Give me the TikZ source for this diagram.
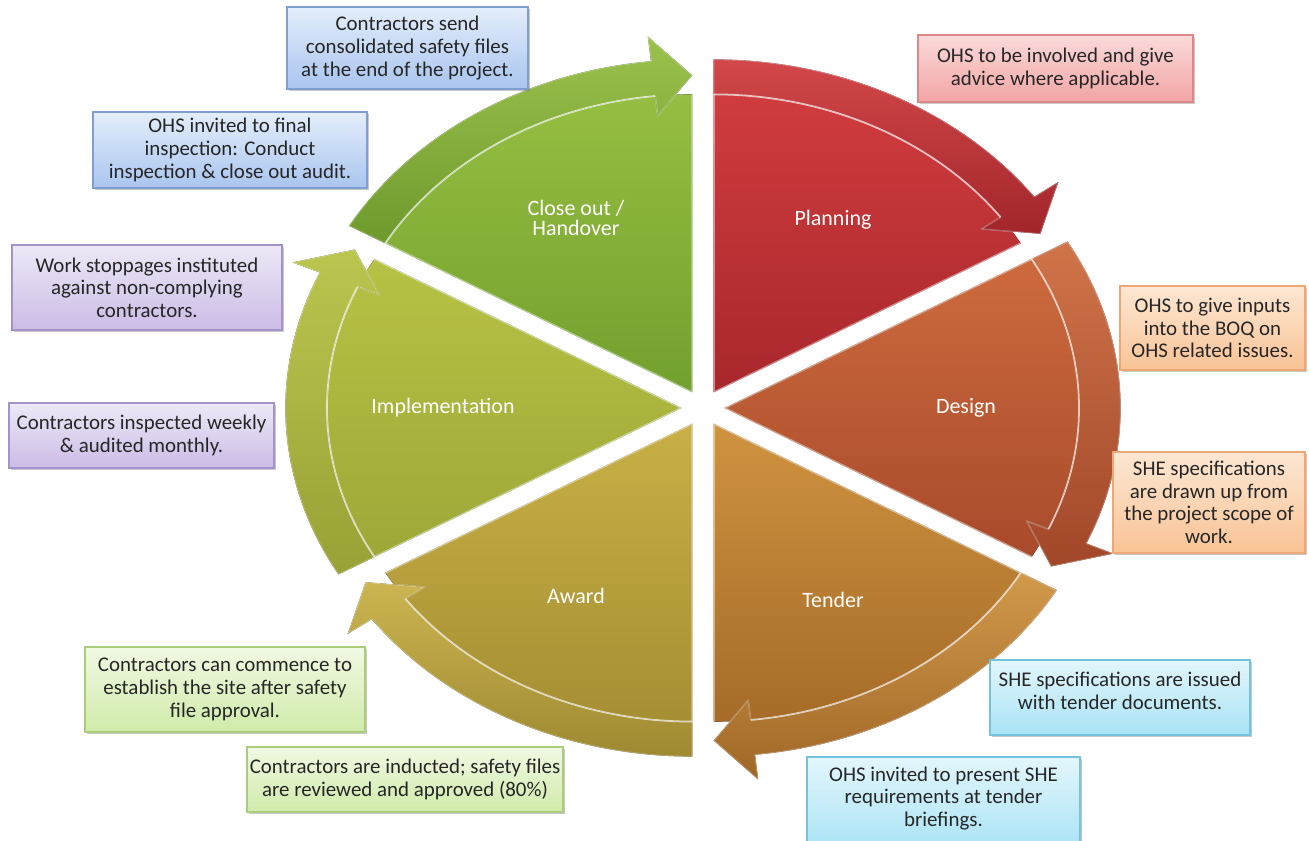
\documentclass[tikz,border=0pt]{standalone}
\usepackage{fontspec}
\setmainfont{Carlito}
\usetikzlibrary{shadows}

\definecolor{planT}{HTML}{D03C3E}\definecolor{planB}{HTML}{A8272C}
\definecolor{desT}{HTML}{CD6B3E}\definecolor{desB}{HTML}{A84A2B}
\definecolor{tenT}{HTML}{CF9340}\definecolor{tenB}{HTML}{A66B28}
\definecolor{awaT}{HTML}{C8B046}\definecolor{awaB}{HTML}{A58F33}
\definecolor{impT}{HTML}{B6C244}\definecolor{impB}{HTML}{9EA838}
\definecolor{cloT}{HTML}{96BE42}\definecolor{cloB}{HTML}{72A02E}

\definecolor{blueT}{HTML}{E4EEFB}\definecolor{blueB}{HTML}{A9C5EF}\definecolor{blueD}{HTML}{7F9FD3}
\definecolor{purT}{HTML}{EEE8F7}\definecolor{purB}{HTML}{CBBCE6}\definecolor{purD}{HTML}{A493CB}
\definecolor{pinkT}{HTML}{FBDADA}\definecolor{pinkB}{HTML}{F2A4A4}\definecolor{pinkD}{HTML}{D98989}
\definecolor{peaT}{HTML}{FDE7D3}\definecolor{peaB}{HTML}{F9C396}\definecolor{peaD}{HTML}{EDA878}
\definecolor{cyaT}{HTML}{E3F6FC}\definecolor{cyaB}{HTML}{A9E3F6}\definecolor{cyaD}{HTML}{72C3DD}
\definecolor{greT}{HTML}{F1F9E3}\definecolor{greB}{HTML}{D0EBAA}\definecolor{greD}{HTML}{A9CD7A}

\tikzset{
  boxbase/.style={rectangle, line width=0.6pt, align=center, inner sep=0pt,
    font=\fontsize{11.9}{12.9}\selectfont, text=black!85,
    drop shadow={shadow xshift=1pt, shadow yshift=-1.3pt, opacity=.3, fill=black!70}},
  bluebox/.style={boxbase, draw=blueD, top color=blueT, bottom color=blueB},
  purbox/.style={boxbase, draw=purD, top color=purT, bottom color=purB},
  pinkbox/.style={boxbase, draw=pinkD, top color=pinkT, bottom color=pinkB},
  peabox/.style={boxbase, draw=peaD, top color=peaT, bottom color=peaB},
  cyabox/.style={boxbase, draw=cyaD, top color=cyaT, bottom color=cyaB},
  grebox/.style={boxbase, draw=greD, top color=greT, bottom color=greB},
  seglabel/.style={text=white, align=center, font=\fontsize{12.5}{11.5}\selectfont, inner sep=0pt}
}

\newcommand{\pieseg}[5]{%
  \begin{scope}[shift={(#1,#2)}, xscale=1.19]
    \pgfmathsetmacro{\sa}{#3+30}%
    \pgfmathsetmacro{\ea}{#3-30}%
    \pgfmathsetmacro{\ba}{#3-24}%
    \fill[top color=#4, bottom color=#5] (0,0) -- (\sa:298) arc[start angle=\sa, end angle=\ea, radius=298] -- cycle;
    \fill[top color=#4!94!white, bottom color=#5!96!black]
      (\sa:298) -- (\sa:333) arc[start angle=\sa, end angle=\ba, radius=333]
      -- (\ba:358) -- (\ea:317) -- (\ba:278) -- (\ba:298)
      arc[start angle=\ba, end angle=\sa, radius=298] -- cycle;
    \draw[white, opacity=.3, line width=.8pt, line join=round]
      (\sa:298) -- (\sa:333) arc[start angle=\sa, end angle=\ba, radius=333]
      -- (\ba:358) -- (\ea:317) -- (\ba:278) -- (\ba:298);
    \draw[white, opacity=.7, line width=1pt] (\ba:298) arc[start angle=\ba, end angle=\sa, radius=298];
    \draw[white, opacity=.45, line width=1.2pt, line join=round] (\ea:298) -- (0,0) -- (\sa:298);
  \end{scope}}

\begin{document}
\begin{tikzpicture}[x=0.02cm, y=0.02cm]
\useasboundingbox (0,0) rectangle (1309,841);
\clip (0,0) rectangle (1309,841);

% pie segments
\pieseg{713.7}{448.6}{60}{planT}{planB}
\pieseg{724.4}{433}{0}{desT}{desB}
\pieseg{713.7}{417.4}{-60}{tenT}{tenB}
\pieseg{692.3}{417.4}{-120}{awaT}{awaB}
\pieseg{681.6}{433}{180}{impT}{impB}
\pieseg{692.3}{448.6}{120}{cloT}{cloB}

% segment labels
\node[seglabel] (lplan) at (833,621) {Planning};
\node[seglabel] (ldes) at (966,433) {Design};
\node[seglabel] (lten) at (833,241) {Tender};
\node[seglabel] (lawa) at (576,245) {Award};
\node[seglabel] (limp) at (443,433) {Implementation};
\node[seglabel] (lclo) at (576,623) {Close out /\\Handover};

% text boxes
\node[bluebox, minimum width=241*0.02cm, minimum height=82*0.02cm] (b1) at (407.5,793)
  {Contractors send\\consolidated safety files\\at the end of the project.};
\node[bluebox, minimum width=274*0.02cm, minimum height=76*0.02cm] (b2) at (230,691)
  {OHS invited to final\\inspection: Conduct\\inspection \& close out audit.};
\node[purbox, minimum width=270*0.02cm, minimum height=85*0.02cm] (b3) at (147,553.5)
  {Work stoppages instituted\\against non-complying\\contractors.};
\node[purbox, minimum width=265*0.02cm, minimum height=65*0.02cm] (b4) at (141.5,405.5)
  {Contractors inspected weekly\\\& audited monthly.};
\node[pinkbox, minimum width=275*0.02cm, minimum height=67*0.02cm] (b5) at (1055.5,772.5)
  {OHS to be involved and give\\advice where applicable.};
\node[peabox, minimum width=185*0.02cm, minimum height=84*0.02cm] (b6) at (1212.5,513)
  {OHS to give inputs\\into the BOQ on\\OHS related issues.};
\node[peabox, minimum width=192*0.02cm, minimum height=101*0.02cm] (b7) at (1209,338.5)
  {SHE specifications\\are drawn up from\\the project scope of\\work.};
\node[cyabox, minimum width=260*0.02cm, minimum height=75*0.02cm] (b8) at (1120,143.5)
  {SHE specifications are issued\\with tender documents.\\[-5pt]\mbox{}};
\node[cyabox, minimum width=273*0.02cm, minimum height=93*0.02cm] (b9) at (943.5,37.5)
  {OHS invited to present SHE\\requirements at tender\\briefings.\\[-5pt]\mbox{}};
\node[grebox, minimum width=280*0.02cm, minimum height=85*0.02cm] (b10) at (225,151.5)
  {Contractors can commence to\\establish the site after safety\\file approval.};
\node[grebox, minimum width=316*0.02cm, minimum height=65*0.02cm] (b11) at (405,61.5)
  {Contractors are inducted; safety files\\are reviewed and approved (80\%)};
\end{tikzpicture}
\end{document}
